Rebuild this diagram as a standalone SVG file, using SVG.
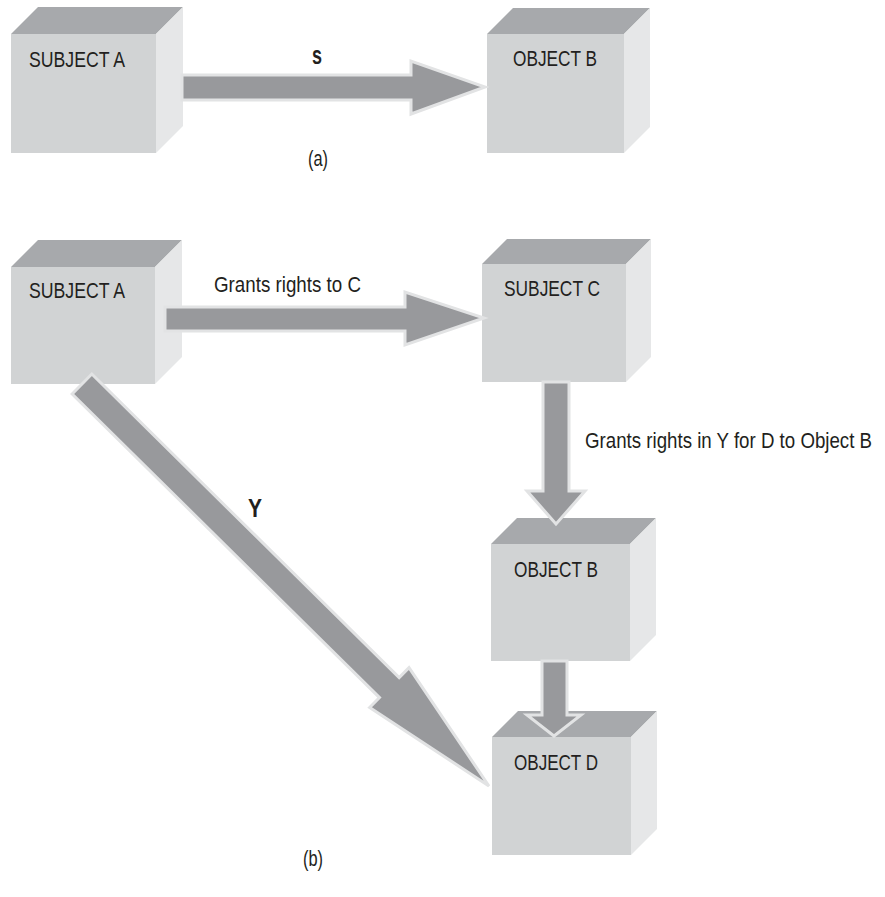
<svg xmlns="http://www.w3.org/2000/svg" width="885" height="897" viewBox="0 0 885 897">
  <style>
    .front { fill: #d1d3d4; }
    .top { fill: #a7a9ac; }
    .side { fill: #e6e7e8; }
    .lbl { font-family: "Liberation Sans", Arial, sans-serif; font-size: 22px; fill: #231f20; }
    .bold { font-family: "Liberation Sans", Arial, sans-serif; font-size: 26px; font-weight: bold; fill: #231f20; }
    .arrow { fill: #98999c; stroke: #e2e3e4; stroke-width: 3; stroke-linejoin: miter; }
  </style>
  <rect width="885" height="897" fill="#ffffff"/>

  <!-- (a) -->
  <g id="subjectA1">
    <polygon class="top" points="11,34 38,7 183,7 156,34"/>
    <polygon class="side" points="156,34 183,7 183,126 156,153"/>
    <rect class="front" x="11" y="34" width="145" height="119"/>
    <text class="lbl" x="29" y="67" textLength="96" lengthAdjust="spacingAndGlyphs">SUBJECT A</text>
  </g>
  <g id="objectB1">
    <polygon class="top" points="487,34 513,8 650,8 624,34"/>
    <polygon class="side" points="624,34 650,8 650,127 624,153"/>
    <rect class="front" x="487" y="34" width="137" height="119"/>
    <text class="lbl" x="513" y="66" textLength="84" lengthAdjust="spacingAndGlyphs">OBJECT B</text>
  </g>

  <!-- (b) -->
  <g id="subjectA2">
    <polygon class="top" points="11,267 38,240 182,240 155,267"/>
    <polygon class="side" points="155,267 182,240 182,357 155,384"/>
    <rect class="front" x="11" y="267" width="144" height="117"/>
    <text class="lbl" x="29" y="298" textLength="96" lengthAdjust="spacingAndGlyphs">SUBJECT A</text>
  </g>
  <g id="subjectC">
    <polygon class="top" points="482,264 507,239 651,239 626,264"/>
    <polygon class="side" points="626,264 651,239 651,357 626,382"/>
    <rect class="front" x="482" y="264" width="144" height="118"/>
    <text class="lbl" x="504" y="296" textLength="96" lengthAdjust="spacingAndGlyphs">SUBJECT C</text>
  </g>
  <g id="objectB2">
    <polygon class="top" points="491,544 517,518 656,518 630,544"/>
    <polygon class="side" points="630,544 656,518 656,635 630,661"/>
    <rect class="front" x="491" y="544" width="139" height="117"/>
    <text class="lbl" x="514" y="577" textLength="84" lengthAdjust="spacingAndGlyphs">OBJECT B</text>
  </g>
  <g id="objectD">
    <polygon class="top" points="492,737 518,711 657,711 631,737"/>
    <polygon class="side" points="631,737 657,711 657,829 631,855"/>
    <rect class="front" x="492" y="737" width="139" height="118"/>
    <text class="lbl" x="514" y="770" textLength="84" lengthAdjust="spacingAndGlyphs">OBJECT D</text>
  </g>

  <!-- connectors -->
  <g id="connectors">
    <polygon class="arrow" points="182,75 411,75 411,61 485,87 411,114 411,100 182,100"/>
    <polygon class="arrow" points="165,307 405,307 405,292 484,318 405,345 405,331 165,331"/>
    <polygon class="arrow" points="543,382 569,382 569,491 585,491 556,524 527,491 543,491"/>
    <polygon class="arrow" points="542,661 567,661 567,715 581,715 554,736 527,715 542,715"/>
    <polygon class="arrow" transform="translate(82,384) rotate(44.65)" points="0,-14 432,-14 432,-28 572,0 432,28 432,14 0,14"/>
  </g>

  <!-- labels -->
  <g id="labels">
    <text class="bold" x="312" y="64" textLength="10" lengthAdjust="spacingAndGlyphs">s</text>
    <text class="bold" x="248" y="517" textLength="14" lengthAdjust="spacingAndGlyphs">Y</text>
    <text class="lbl" x="214" y="292" textLength="147" lengthAdjust="spacingAndGlyphs">Grants rights to C</text>
    <text class="lbl" transform="translate(585,448) scale(0.85,1)" x="0" y="0">Grants rights in Y for D to Object B</text>
    <text class="lbl" x="308" y="166" textLength="20" lengthAdjust="spacingAndGlyphs">(a)</text>
    <text class="lbl" x="303" y="866" textLength="20" lengthAdjust="spacingAndGlyphs">(b)</text>
  </g>
</svg>
